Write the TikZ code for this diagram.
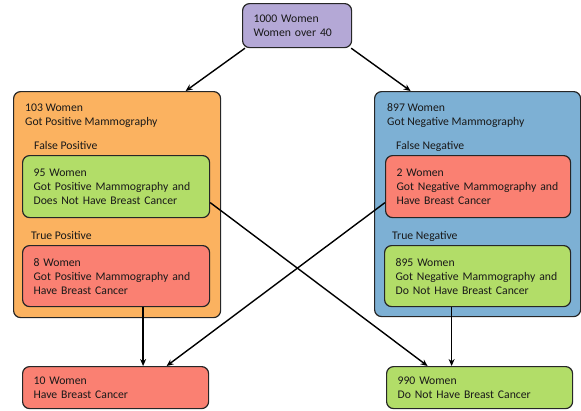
\documentclass[tikz,border=0pt]{standalone}
\usepackage{fontspec}
\setmainfont{Carlito}
\usetikzlibrary{arrows.meta,calc}
\definecolor{lav}{RGB}{180,168,214}
\definecolor{orng}{RGB}{251,178,96}
\definecolor{blu}{RGB}{125,176,212}
\definecolor{grn}{RGB}{178,221,104}
\definecolor{salm}{RGB}{250,128,114}
\definecolor{edge}{RGB}{38,38,38}
\definecolor{ink}{RGB}{25,25,25}
\tikzset{
  box/.style={draw=edge, line width=1.2pt, rounded corners=7pt, anchor=north west,
    inner xsep=11pt, inner ysep=2pt, align=left, text=ink,
    font=\fontsize{11.7}{14}\selectfont},
  txt/.style={anchor=base west, inner sep=0pt, text=ink, font=\fontsize{11.7}{14}\selectfont},
  arr/.style={line width=1.4pt, black, -{Stealth[length=7pt,width=6pt]}}
}
\begin{document}
\begin{tikzpicture}[x=1pt,y=-1pt]
\useasboundingbox (0,0) rectangle (581,410);
% top
\node[box, fill=lav, minimum width=109pt, minimum height=44pt, text width=87pt] (top) at (242,3) {1000 Women\\Women over 40};
% containers
\node[box, fill=orng, minimum width=207pt, minimum height=226pt, text width=185pt] (pos) at (13,91) {};
\node[box, fill=blu, minimum width=206pt, minimum height=225pt, text width=184pt] (neg) at (374,91) {};
% container texts
\node[txt] (posa) at (25,111) {103 Women};
\node[txt] (posb) at (25,125) {Got Positive Mammography};
\node[txt] (fp) at (34,149) {False Positive};
\node[txt] (tp) at (31,239) {True Positive};
\node[txt] (nega) at (387,111) {897 Women};
\node[txt] (negb) at (387,125) {Got Negative Mammography};
\node[txt] (fn) at (396,149) {False Negative};
\node[txt] (tn) at (392,239) {True Negative};
% inner boxes
\node[box, fill=grn, minimum width=187pt, minimum height=62pt, text width=165pt] (g95) at (22,155) {95 Women\\Got Positive Mammography and\\Does Not Have Breast Cancer};
\node[box, fill=salm, minimum width=187pt, minimum height=61pt, text width=165pt] (r8) at (22,245) {8 Women\\Got Positive Mammography and\\Have Breast Cancer};
\node[box, fill=salm, minimum width=185pt, minimum height=62pt, text width=163pt] (r2) at (385,155) {2 Women\\Got Negative Mammography and\\Have Breast Cancer};
\node[box, fill=grn, minimum width=186pt, minimum height=61pt, text width=164pt] (g895) at (384,245) {895 Women\\Got Negative Mammography and\\Do Not Have Breast Cancer};
% bottom
\node[box, fill=salm, minimum width=186pt, minimum height=42pt, text width=164pt] (r10) at (22,366) {10 Women\\Have Breast Cancer};
\node[box, fill=grn, minimum width=186pt, minimum height=42pt, text width=164pt] (g990) at (386,366) {990 Women\\Do Not Have Breast Cancer};
% arrows
\draw[arr] ([xshift=3pt]top.south west) -- ([xshift=68.5pt]pos.north);
\draw[arr] ([xshift=-1pt]top.south east) -- ([xshift=-67pt]neg.north);
\draw[arr] ([yshift=-16pt]g95.east) -- ([xshift=-52pt]g990.north);
\draw[arr] ([yshift=-16pt]r2.west) -- ([xshift=51pt]r10.north);
\draw[arr] ([xshift=27pt]r8.south) -- ([xshift=27pt]r8.south |- r10.north);
\draw[arr] ([xshift=-26pt]g895.south) -- ([xshift=-26pt]g895.south |- g990.north);
\end{tikzpicture}
\end{document}
